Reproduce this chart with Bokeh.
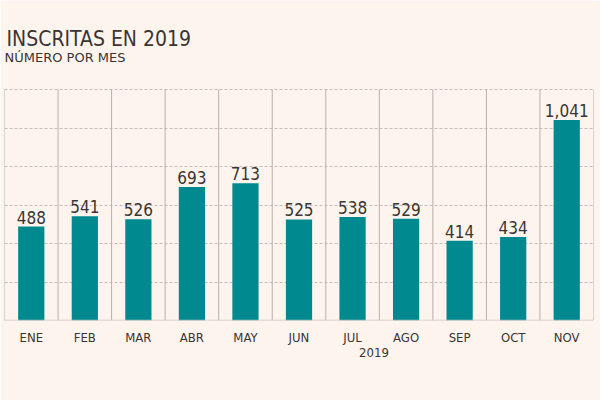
from bokeh.plotting import figure
from bokeh.models import FixedTicker, ColumnDataSource, Span, Range1d, Label, LinearAxis
from bokeh.core.properties import value
from bokeh.embed import file_html
from bokeh.resources import INLINE

months = ["ENE", "FEB", "MAR", "ABR", "MAY", "JUN", "JUL", "AGO", "SEP", "OCT", "NOV"]
counts = [488, 541, 526, 693, 713, 525, 538, 529, 414, 434, 1041]
value_labels = ["488", "541", "526", "693", "713", "525", "538", "529", "414", "434", "1,041"]
y_ticks = [200, 400, 600, 800, 1000, 1200]
y_max = 1200
title_text = "INSCRITAS EN 2019"
subtitle_text = "NÚMERO POR MES"
year_text = "2019"
year_pos = 6.9

FONT = "'DejaVu Sans Condensed', Roboto"
FONT2 = "'DejaVu Sans', Roboto"
BG = "#fdf4ee"
TXT = "#3a3432"
BAR = "#008a8f"
GRID = "#b8afab"

# layout: chart area is 231px tall under a 89px header that shares the frame
CHART_H, HEADER_H = 231, 89
centers = [i + 0.5 for i in range(len(months))]
bounds = list(range(len(months) + 1))
src = ColumnDataSource(dict(x=centers, top=counts, lab=value_labels))

p = figure(frame_width=589, frame_height=CHART_H + HEADER_H, output_backend="svg",
           toolbar_location=None,
           x_range=Range1d(0, len(months)),
           y_range=Range1d(0, y_max * (CHART_H + HEADER_H) / CHART_H),
           min_border_left=4, min_border_right=7, min_border_top=0, min_border_bottom=80,
           background_fill_color=BG, border_fill_color=BG, outline_line_color=None)
p.title.visible = False

# grid
p.xgrid.visible = False
p.ygrid.ticker = FixedTicker(ticks=y_ticks)
p.ygrid.grid_line_color = "#c4bcb8"
p.ygrid.grid_line_dash = "3 2"
p.ygrid.grid_line_width = 1
p.segment(x0=bounds, x1=bounds, y0=[0] * len(bounds), y1=[y_max] * len(bounds),
          line_color=GRID, line_width=1)

p.vbar(x="x", top="top", width=0.49, source=src, color=BAR, line_color=None)
p.text(x="x", y="top", text="lab", source=src, text_align="center", text_baseline="bottom",
       y_offset=-3, text_font=value(FONT), text_font_size="17px", text_color=TXT)

# axes
p.xaxis.ticker = FixedTicker(ticks=centers)
p.xaxis.major_label_overrides = {c: m for c, m in zip(centers, months)}
p.xaxis.axis_line_color = None
p.xaxis.major_tick_line_color = None
p.xaxis.minor_tick_line_color = None
p.xaxis.major_label_standoff = 3
p.xaxis.major_label_text_font = FONT
p.xaxis.major_label_text_font_size = "13px"
p.xaxis.major_label_text_color = TXT
p.yaxis.visible = False

year_axis = LinearAxis(ticker=FixedTicker(ticks=[year_pos]),
                       major_label_overrides={year_pos: year_text},
                       axis_line_color=None, major_tick_line_color=None,
                       minor_tick_line_color=None, major_label_standoff=-6,
                       major_label_text_font=FONT, major_label_text_font_size="13px",
                       major_label_text_color=TXT)
p.add_layout(year_axis, "below")

p.add_layout(Span(location=0, dimension="width", line_color="#c9c1bd", line_width=1.5))

p.add_layout(Label(x=2, y=CHART_H + HEADER_H - 38, x_units="screen", y_units="screen",
                   text=title_text, text_font=FONT, text_font_size="21px",
                   text_color=TXT, text_baseline="alphabetic"))
p.add_layout(Label(x=0, y=CHART_H + HEADER_H - 57, x_units="screen", y_units="screen",
                   text=subtitle_text, text_font=FONT2, text_font_size="13px",
                   text_color=TXT, text_baseline="alphabetic"))

open("out.html", "w").write(file_html(p, INLINE))
